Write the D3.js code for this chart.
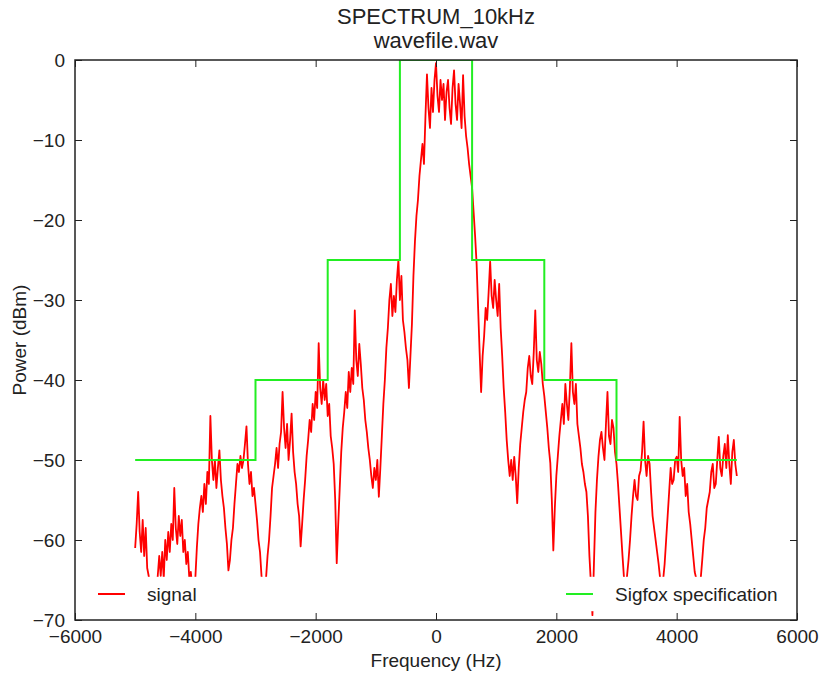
<!DOCTYPE html>
<html>
<head>
<meta charset="utf-8">
<script src="https://cdn.jsdelivr.net/npm/d3@7"></script>
<style>
  body { margin: 0; background: #fff; }
  text { font-family: "Liberation Sans", Arial, sans-serif; }
</style>
</head>
<body>
<div id="chart"></div>
<script>
// titles and labels
const titleLines = ["SPECTRUM_10kHz", "wavefile.wav"];
const xLabel = "Frequency (Hz)";
const yLabel = "Power (dBm)";
const legendNames = ["signal", "Sigfox specification"];

// tick values
const xTicks = [-6000, -4000, -2000, 0, 2000, 4000, 6000];
const yTicks = [0, -10, -20, -30, -40, -50, -60, -70];

// Sigfox mask (step line)
const specFreq = [-5000, -3000, -3000, -1800, -1800, -600, -600, 600, 600, 1800, 1800, 3000, 3000, 5000];
const specPower = [-50, -50, -40, -40, -25, -25, 0, 0, -25, -25, -40, -40, -50, -50];

const signalFreq = d3.range(-5000, 5001, 25);
const signalPower = [
  // -5000 .. -4525
  -61, -58, -54, -59, -61.5, -57.5, -62, -58.5, -63.5, -64.5, -66, -65, -67, -65.5, -66.5, -64.5, -62, -64.5, -61.5, -64.8,
  // -4500 .. -4025
  -60, -62.5, -59, -61.5, -58, -60, -53.5, -58.5, -60.5, -57, -59.5, -57.5, -61.5, -60, -63, -61.5, -64.8, -64, -66, -65.5,
  // -4000 .. -3525
  -64.8, -61, -58, -56, -54.5, -56.5, -53, -55.5, -51.5, -53, -44.5, -50, -52.5, -50, -53.5, -51, -48.8, -52.5, -54.5, -56,
  // -3500 .. -3025
  -58.5, -60.5, -63.8, -62.5, -60, -58.5, -55.5, -53, -50.5, -51.5, -49.5, -51, -50, -48, -45.8, -50.5, -53, -51.5, -54.5, -53.5,
  // -3000 .. -2525
  -55.5, -57.5, -60, -61.5, -64.5, -66, -65.5, -64.8, -62, -60, -57, -53.5, -52, -50.5, -48.5, -51, -48, -46.5, -41.5, -46,
  // -2500 .. -2025
  -48.5, -45.5, -50, -47.5, -44.2, -49, -51.5, -53, -55.5, -57, -60.8, -58, -55, -52.5, -49.5, -47.5, -45, -46.5, -43, -45,
  // -2000 .. -1525
  -41.5, -43.5, -35.4, -41, -43, -40, -42.5, -40.5, -44.5, -43, -47, -48.5, -50.5, -55, -62.9, -58, -53.5, -49, -46, -44,
  // -1500 .. -1025
  -41.5, -43.5, -39, -41.5, -38.5, -40.5, -31.3, -37.5, -39.5, -35.5, -38, -41, -42.5, -45, -46.5, -48.5, -50, -52, -53.5, -51,
  // -1000 .. -525
  -52.5, -50, -54.6, -51, -47, -43, -40, -36, -33.5, -30, -28, -32, -29.5, -31.5, -27.5, -25, -30, -27, -32.5, -34,
  // -500 .. -25
  -36, -37.5, -41, -37, -33, -27, -22.7, -19.5, -17.5, -14.5, -12.5, -10.5, -13, -7, -1.8, -6, -8.5, -3.5, -6.5, -2.5,
  // 0 .. 475
  -0.4, -4.5, -6.5, -2.5, -5, -3, -7.5, -4, -2.5, -6, -8, -3.5, -1.3, -5.5, -7.5, -3, -5.5, -8.5, -1.9, -7,
  // 500 .. 975
  -9.5, -11, -13, -14.5, -16, -19, -22, -25.5, -31, -36.5, -41.5, -37, -34.5, -31, -32.5, -29, -25.2, -29.5, -31, -27.5,
  // 1000 .. 1475
  -30, -32, -28, -33.5, -37, -41, -44, -47.5, -50, -52, -50, -52.5, -49.6, -52, -55.4, -51, -48, -46, -44, -42.5,
  // 1500 .. 1975
  -41.5, -38.5, -37, -39.5, -40.5, -36.5, -31.3, -37.5, -39, -36.5, -38, -40.5, -42, -44, -46, -48.5, -50.4, -55, -61.3, -56,
  // 2000 .. 2475
  -52, -49.5, -47, -45, -43, -45.5, -40.5, -43, -45, -41, -35.4, -41.5, -43, -40.5, -45.5, -47, -48.5, -50.5, -51.5, -53,
  // 2500 .. 2975
  -54, -57, -62, -65.5, -69.4, -63, -56.5, -52.5, -49.6, -47.5, -46.5, -48.5, -50, -45.5, -41.5, -47, -48, -45, -46, -49,
  // 3000 .. 3475
  -50.5, -53, -56, -59, -62, -64.8, -66, -64.5, -62.5, -60, -57, -54.5, -52.5, -54.5, -55, -52, -51.3, -49, -45.2, -50,
  // 3500 .. 3975
  -52, -49.5, -50.5, -54, -57, -58.5, -60, -61.5, -63, -64.8, -66.5, -65, -63, -60, -57, -54, -51, -53, -52.5, -50,
  // 4000 .. 4475
  -49.6, -51.5, -44.6, -50, -52, -51, -54.5, -53, -56.5, -58, -60, -62, -64, -64.8, -66.5, -65.5, -64.8, -62.5, -60, -58.5,
  // 4500 .. 5000
  -56, -55, -54, -51.5, -50.5, -53.5, -53, -50, -47.1, -51, -52, -49.5, -48, -51, -46.9, -50.5, -53, -49, -47.5, -50.5,
  -52
];

const width = 819, height = 674;
const margin = {top: 60, right: 22, bottom: 54, left: 75};

const svg = d3.select("#chart")
  .append("svg")
  .attr("width", width)
  .attr("height", height);

const x = d3.scaleLinear().domain([-6000, 6000]).range([margin.left, width - margin.right]);
const y = d3.scaleLinear().domain([-70, 0]).range([height - margin.bottom, margin.top]);

svg.append("clipPath").attr("id", "plotClip")
  .append("rect")
  .attr("x", x(-6000)).attr("y", y(0))
  .attr("width", x(6000) - x(-6000)).attr("height", y(-70) - y(0));

const plot = svg.append("g").attr("clip-path", "url(#plotClip)");

// signal
const signalData = signalFreq.map((f, i) => [f, signalPower[i]]);
plot.append("path")
  .datum(signalData)
  .attr("fill", "none")
  .attr("stroke", "#ff0000")
  .attr("stroke-width", 1.8)
  .attr("stroke-linejoin", "round")
  .attr("d", d3.line().x(d => x(d[0])).y(d => y(d[1])));

// sigfox spec
const specData = specFreq.map((f, i) => [f, specPower[i]]);
plot.append("path")
  .datum(specData)
  .attr("fill", "none")
  .attr("stroke", "#22ee22")
  .attr("stroke-width", 2)
  .attr("d", d3.line().x(d => x(d[0])).y(d => y(d[1])));

// legend box (white, no frame) spans the axes width and covers the signal
const legendTop = y(-64.6), legendBottom = y(-68.9);
svg.append("rect")
  .attr("x", x(-6000) + 3).attr("y", legendTop)
  .attr("width", x(6000) - x(-6000) - 6).attr("height", legendBottom - legendTop)
  .attr("fill", "#fff");

const legendY = (legendTop + legendBottom) / 2;
const legendItems = [
  {name: legendNames[0], color: "#ff0000", x0: 98},
  {name: legendNames[1], color: "#22ee22", x0: 566}
];
legendItems.forEach(d => {
  svg.append("line")
    .attr("x1", d.x0).attr("x2", d.x0 + 27)
    .attr("y1", legendY).attr("y2", legendY)
    .attr("stroke", d.color).attr("stroke-width", 2);
  svg.append("text")
    .attr("x", d.x0 + 49).attr("y", legendY)
    .attr("dy", "0.35em")
    .style("font-size", "19px")
    .attr("fill", "#222")
    .text(d.name);
});

// axes, ticks inward on all four sides
const tickLen = 7;
const fmt = d3.format("");
svg.append("g")
  .attr("transform", `translate(0,${y(-70)})`)
  .call(d3.axisBottom(x).tickValues(xTicks).tickFormat(fmt).tickSizeInner(-tickLen).tickSizeOuter(0).tickPadding(10))
  .call(g => g.select(".domain").remove());
svg.append("g")
  .attr("transform", `translate(0,${y(0)})`)
  .call(d3.axisTop(x).tickValues(xTicks).tickFormat("").tickSizeInner(-tickLen).tickSizeOuter(0))
  .call(g => g.select(".domain").remove());
svg.append("g")
  .attr("transform", `translate(${x(-6000)},0)`)
  .call(d3.axisLeft(y).tickValues(yTicks).tickFormat(fmt).tickSizeInner(-tickLen).tickSizeOuter(0).tickPadding(10))
  .call(g => g.select(".domain").remove());
svg.append("g")
  .attr("transform", `translate(${x(6000)},0)`)
  .call(d3.axisRight(y).tickValues(yTicks).tickFormat("").tickSizeInner(-tickLen).tickSizeOuter(0))
  .call(g => g.select(".domain").remove());

svg.selectAll(".tick line").attr("stroke", "#222").attr("stroke-width", 1);
svg.selectAll(".tick text")
  .style("font-size", "19px")
  .style("font-family", "'Liberation Sans', Arial, sans-serif")
  .attr("fill", "#222");

svg.append("rect")
  .attr("x", x(-6000)).attr("y", y(0))
  .attr("width", x(6000) - x(-6000)).attr("height", y(-70) - y(0))
  .attr("fill", "none")
  .attr("stroke", "#222")
  .attr("stroke-width", 1.5);

// labels
svg.append("text")
  .attr("x", (x(-6000) + x(6000)) / 2).attr("y", 667)
  .attr("text-anchor", "middle")
  .style("font-size", "19px")
  .attr("fill", "#222")
  .text(xLabel);

svg.append("text")
  .attr("transform", `translate(26,${(y(0) + y(-70)) / 2}) rotate(-90)`)
  .attr("text-anchor", "middle")
  .style("font-size", "19px")
  .attr("fill", "#222")
  .text(yLabel);

svg.selectAll(".title")
  .data(titleLines)
  .join("text")
  .attr("class", "title")
  .attr("x", (x(-6000) + x(6000)) / 2)
  .attr("y", (d, i) => 24 + i * 24)
  .attr("text-anchor", "middle")
  .style("font-size", "22px")
  .attr("fill", "#222")
  .text(d => d);
</script>
</body>
</html>
